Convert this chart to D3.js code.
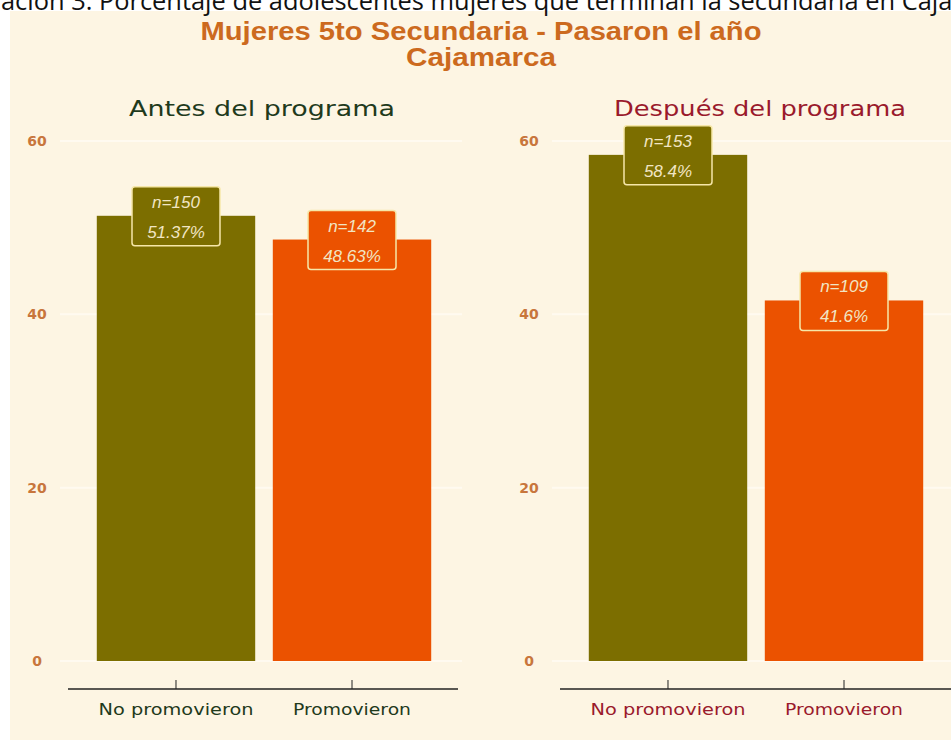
<!DOCTYPE html>
<html lang="es">
<head>
<meta charset="UTF-8">
<title>Mujeres 5to Secundaria</title>
<style>
  body { margin: 0; background: #fff; }
  svg { display: block; }
</style>
</head>
<body>
<script src="https://d3js.org/d3.v7.min.js"></script>
<script>
    // datos
    let categories = ['No promovieron', 'Promovieron'];
    let panels = ['Antes del programa', 'Después del programa'];
    let antesValues = [51.37, 48.63];
    let antesN = [150, 142];
    let despuesValues = [58.4, 41.6];
    let despuesN = [153, 109];
    let yTicks = [0, 20, 40, 60];
    let caption = 'ación 3. Porcentaje de adolescentes mujeres que terminan la secundaria en Cajamarca';
    let title1 = 'Mujeres 5to Secundaria - Pasaron el año';
    let title2 = 'Cajamarca';

    let width = 951;
    let height = 740;
    let barColors = ['#7c6e00', '#eb5200'];
    let panelColors = ['#1f3a1c', '#9a1a2c'];

    let svg = d3.select('body').append('svg')
        .attr('width', width)
        .attr('height', height);

    svg.append('rect')
        .attr('x', 10).attr('y', 11)
        .attr('width', width - 10).attr('height', height - 11)
        .attr('fill', '#fdf5e3');

    // caption cut at the top, as in the source picture
    let cap = svg.append('text')
        .attr('x', 1).attr('y', 10)
        .attr('font-family', 'Open Sans, Liberation Sans, sans-serif')
        .attr('font-size', 20)
        .attr('fill', '#111')
        .text(caption);
    let prefixLen = cap.node().getSubStringLength(0, caption.indexOf('Caja') + 4);
    cap.attr('font-size', 20 * 952 / prefixLen);

    svg.append('text')
        .attr('x', 481).attr('y', 40)
        .attr('text-anchor', 'middle')
        .attr('font-family', 'Liberation Sans, Arial, sans-serif')
        .attr('font-weight', 'bold')
        .attr('font-size', 25)
        .attr('textLength', 561)
        .attr('lengthAdjust', 'spacingAndGlyphs')
        .attr('fill', '#cc6a1e')
        .text(title1);
    svg.append('text')
        .attr('x', 481).attr('y', 66)
        .attr('text-anchor', 'middle')
        .attr('font-family', 'Liberation Sans, Arial, sans-serif')
        .attr('font-weight', 'bold')
        .attr('font-size', 25)
        .attr('textLength', 150)
        .attr('lengthAdjust', 'spacingAndGlyphs')
        .attr('fill', '#cc6a1e')
        .text(title2);

    let yScale = d3.scaleLinear()
        .domain([0, 60])
        .range([661, 141]);

    let drawPanel = (dx, idx, values, ns) => {
        let g = svg.append('g').attr('transform', 'translate(' + dx + ',0)');
        let xScale = d3.scaleBand()
            .domain(categories)
            .range([68, 460])
            .paddingInner(0.1)
            .paddingOuter(0.1636);

        // grid
        g.selectAll('.grid').data(yTicks).enter()
            .append('line')
            .attr('x1', 60).attr('x2', 462)
            .attr('y1', d => yScale(d)).attr('y2', d => yScale(d))
            .attr('stroke', '#fffaf0')
            .attr('stroke-width', 2);

        // y labels
        g.selectAll('.ylab').data(yTicks).enter()
            .append('text')
            .attr('x', 37)
            .attr('y', d => yScale(d) + 5)
            .attr('text-anchor', 'middle')
            .attr('font-family', 'DejaVu Sans, sans-serif')
            .attr('font-weight', 'bold')
            .attr('font-size', 14)
            .attr('fill', '#c8763c')
            .text(d => d);

        // bars
        g.selectAll('.bar').data(values).enter()
            .append('rect')
            .attr('x', (d, i) => xScale(categories[i]))
            .attr('y', d => yScale(d))
            .attr('width', xScale.bandwidth())
            .attr('height', d => yScale(0) - yScale(d))
            .attr('fill', (d, i) => barColors[i]);

        // labels
        values.forEach((v, i) => {
            let cx = xScale(categories[i]) + xScale.bandwidth() / 2;
            let cy = yScale(v);
            g.append('rect')
                .attr('x', cx - 44).attr('y', cy - 29)
                .attr('width', 88).attr('height', 59)
                .attr('rx', 3)
                .attr('fill', barColors[i])
                .attr('stroke', '#f6e7a8')
                .attr('stroke-width', 1.5);
            g.append('text')
                .attr('x', cx).attr('y', cy - 8)
                .attr('text-anchor', 'middle')
                .attr('font-family', 'Liberation Sans, Arial, sans-serif')
                .attr('font-style', 'italic')
                .attr('font-size', 17)
                .attr('fill', '#f1e5c3')
                .text('n=' + ns[i]);
            g.append('text')
                .attr('x', cx).attr('y', cy + 22)
                .attr('text-anchor', 'middle')
                .attr('font-family', 'Liberation Sans, Arial, sans-serif')
                .attr('font-style', 'italic')
                .attr('font-size', 17)
                .attr('fill', '#f1e5c3')
                .text(v + '%');
        });

        // x axis
        let xAxis = d3.axisBottom(xScale).tickSize(-9).tickPadding(18);
        let ax = g.append('g')
            .attr('transform', 'translate(0,689)')
            .call(xAxis);
        ax.select('.domain').attr('stroke', '#222').attr('stroke-width', 1.5)
            .attr('d', 'M68,0H' + (idx === 0 ? 458 : 470));
        ax.selectAll('.tick line').attr('stroke', '#222');
        ax.selectAll('.tick text')
            .attr('font-family', 'DejaVu Sans, sans-serif')
            .attr('font-size', 15)
            .attr('fill', panelColors[idx])
            .attr('textLength', (d, i) => i === 0 ? 155 : 118)
            .attr('lengthAdjust', 'spacingAndGlyphs')
            .attr('dy', '0.55em');

        // panel title
        g.append('text')
            .attr('x', idx === 0 ? 262 : 268).attr('y', 116)
            .attr('text-anchor', 'middle')
            .attr('font-family', 'DejaVu Sans, sans-serif')
            .attr('font-size', 22)
            .attr('fill', panelColors[idx])
            .attr('textLength', idx === 0 ? 266 : 292)
            .attr('lengthAdjust', 'spacingAndGlyphs')
            .text(panels[idx]);
    };

    drawPanel(0, 0, antesValues, antesN);
    drawPanel(492, 1, despuesValues, despuesN);
</script>
</body>
</html>
